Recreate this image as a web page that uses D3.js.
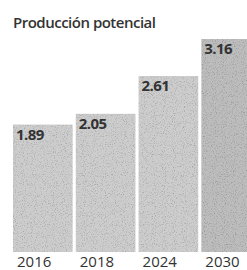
<!DOCTYPE html>
<html>
<head>
<meta charset="utf-8">
<script src="https://cdn.jsdelivr.net/npm/d3@7"></script>
<style>
  body { margin: 0; background: #fff; }
  svg { display: block; }
</style>
</head>
<body>
<svg id="chart" width="247" height="270"></svg>
<script>
// Chart values
const years = ['2016', '2018', '2024', '2030'];
const production = [1.89, 2.05, 2.61, 3.16];
const title = 'Producción potencial';

const svg = d3.select('#chart');

// grainy paper texture for the bars
const defs = svg.append('defs');
const grain = defs.append('filter').attr('id', 'grain')
  .attr('x', 0).attr('y', 0).attr('width', 1).attr('height', 1);
grain.append('feTurbulence')
  .attr('type', 'fractalNoise')
  .attr('baseFrequency', 0.9)
  .attr('numOctaves', 2)
  .attr('seed', 3)
  .attr('result', 'noise');
grain.append('feColorMatrix')
  .attr('in', 'noise')
  .attr('type', 'matrix')
  .attr('values', '0 0 0 0 0  0 0 0 0 0  0 0 0 0 0  0 0 0 -1.1 0.55')
  .attr('result', 'dots');
grain.append('feComposite')
  .attr('in', 'dots').attr('in2', 'SourceGraphic').attr('operator', 'atop');

const x = d3.scaleBand()
  .domain(years)
  .range([13, 261])
  .paddingInner(0.05)
  .paddingOuter(0);

const y = d3.scaleLinear()
  .domain([0, d3.max(production)])
  .range([252, 39]);

const data = years.map((yr, i) => ({ year: yr, value: production[i] }));

svg.append('text')
  .attr('x', 13)
  .attr('y', 28)
  .attr('font-family', 'Open Sans, sans-serif')
  .attr('font-weight', 600)
  .attr('font-size', 15)
  .attr('letter-spacing', -0.5)
  .attr('fill', '#333')
  .text(title);

const bars = svg.append('g')
  .selectAll('g')
  .data(data)
  .join('g');

bars.append('rect')
  .attr('x', (d) => x(d.year))
  .attr('y', (d) => y(d.value))
  .attr('width', x.bandwidth())
  .attr('height', (d) => y(0) - y(d.value))
  .attr('fill', (d, i) => (i === 3 ? '#bdbdbd' : '#cdcdcd'))
  .attr('filter', 'url(#grain)');

bars.append('text')
  .attr('x', (d) => x(d.year) + 3)
  .attr('y', (d) => y(d.value) + 15)
  .attr('font-family', 'Open Sans, sans-serif')
  .attr('font-weight', 700)
  .attr('font-size', 15)
  .attr('letter-spacing', -0.6)
  .attr('fill', '#333')
  .text((d) => d.value.toFixed(2));

// year labels under the bars (left aligned like the original)
bars.append('text')
  .attr('x', (d) => x(d.year) + 4)
  .attr('y', 267)
  .attr('font-family', 'Open Sans, sans-serif')
  .attr('font-size', 15)
  .attr('fill', '#333')
  .text((d) => d.year);
</script>
</body>
</html>
